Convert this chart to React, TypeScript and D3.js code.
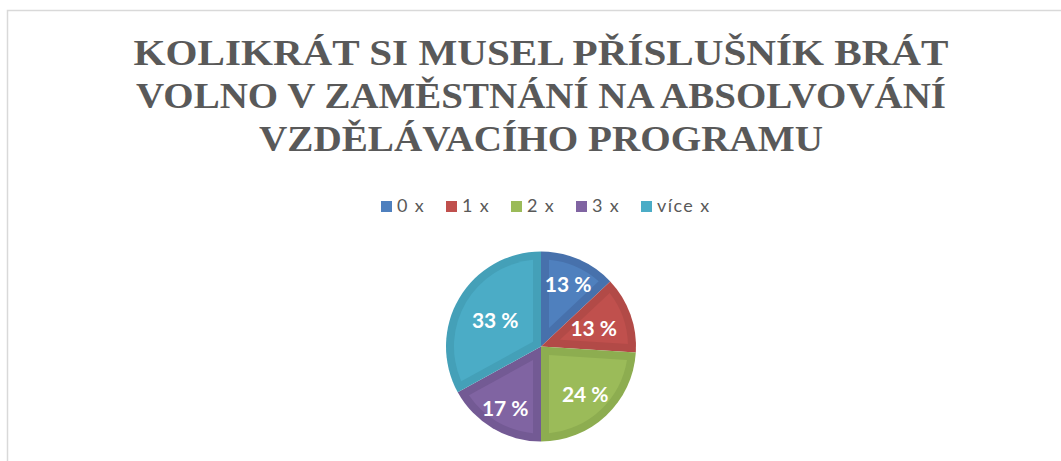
import React from "react";
import * as d3 from "d3";

const TITLE_LINES = [
  "KOLIKRÁT SI MUSEL PŘÍSLUŠNÍK BRÁT",
  "VOLNO V ZAMĚSTNÁNÍ NA ABSOLVOVÁNÍ",
  "VZDĚLÁVACÍHO PROGRAMU",
];
const CATEGORIES = ["0 x", "1 x", "2 x", "3 x", "více x"];
const VALUES = [13, 13, 24, 17, 33];
const LABELS = ["13 %", "13 %", "24 %", "17 %", "33 %"];

const OUTER_COLORS = ["#4771AC", "#B24A47", "#8DAD50", "#735A94", "#44A0B8"];
const INNER_COLORS = ["#4F80BE", "#C0504D", "#9BBB59", "#8064A2", "#4BACC6"];
const LABEL_R = [0.72, 0.59, 0.68, 0.74, 0.56];
const TITLE_WIDTHS = [815, 810, 564];

const W = 1061;
const H = 461;
const CX = 541;
const CY = 346.5;
const R = 95;
const INSET = 8;

function insetPath(a0: number, a1: number, r: number, d: number): string {
  const h = (a1 - a0) / 2;
  const m = (a0 + a1) / 2;
  const r2 = r - d;
  const apexR = d / Math.sin(Math.min(h, Math.PI / 2));
  const delta = Math.asin(d / r2);
  const pt = (a: number, rr: number): [number, number] => [rr * Math.sin(a), -rr * Math.cos(a)];
  const p = d3.path();
  const [ax, ay] = pt(m, apexR);
  const s0 = a0 + delta;
  const s1 = a1 - delta;
  p.moveTo(ax, ay);
  const [bx, by] = pt(s0, r2);
  p.lineTo(bx, by);
  p.arc(0, 0, r2, s0 - Math.PI / 2, s1 - Math.PI / 2, false);
  p.closePath();
  return p.toString();
}

export default function App() {
  const pie = d3.pie<number>().sort(null).value((d) => d);
  const arcs = pie(VALUES);
  const arcGen = d3.arc<d3.PieArcDatum<number>>().innerRadius(0).outerRadius(R);
  const legendX = d3
    .scalePoint<string>()
    .domain(CATEGORIES)
    .range([381, 381 + 65 * (CATEGORIES.length - 1)]);

  return (
    <svg
      width={W}
      height={H}
      style={{ position: "absolute", left: 0, top: 0, background: "#fff" }}
    >
      <rect x={0} y={0} width={W} height={H} fill="#fff" />
      <rect x={7.5} y={10.5} width={1200} height={600} fill="#fff" stroke="#D9D9D9" strokeWidth={1.5} />
      {TITLE_LINES.map((t, i) => (
        <text
          key={i}
          x={CX}
          y={65 + i * 43}
          textAnchor="middle"
          textLength={TITLE_WIDTHS[i]}
          lengthAdjust="spacingAndGlyphs"
          fontFamily="'Liberation Serif', 'Times New Roman', serif"
          fontWeight="bold"
          fontSize={35}
          fill="#595959"
        >
          {t}
        </text>
      ))}
      {CATEGORIES.map((c, i) => {
        const x = legendX(c) as number;
        return (
          <g key={c}>
            <rect x={x} y={201} width={11} height={11} fill={INNER_COLORS[i]} />
            <text
              x={x + 16}
              y={212}
              fontFamily="Lato, 'Open Sans', sans-serif"
              fontSize={18}
              letterSpacing={1.4}
              fill="#595959"
            >
              {c}
            </text>
          </g>
        );
      })}
      <g transform={`translate(${CX},${CY})`}>
        {arcs.map((a, i) => (
          <g key={i}>
            <path d={arcGen(a) as string} fill={OUTER_COLORS[i]} />
            <path d={insetPath(a.startAngle, a.endAngle, R, INSET)} fill={INNER_COLORS[i]} />
          </g>
        ))}
        {arcs.map((a, i) => {
          const m = (a.startAngle + a.endAngle) / 2;
          const rr = R * LABEL_R[i];
          return (
            <text
              key={"l" + i}
              x={rr * Math.sin(m)}
              y={-rr * Math.cos(m)}
              textAnchor="middle"
              dominantBaseline="central"
              fontFamily="Lato, 'Open Sans', sans-serif"
              fontWeight="bold"
              fontSize={21}
              fill="#fff"
            >
              {LABELS[i]}
            </text>
          );
        })}
      </g>
    </svg>
  );
}
